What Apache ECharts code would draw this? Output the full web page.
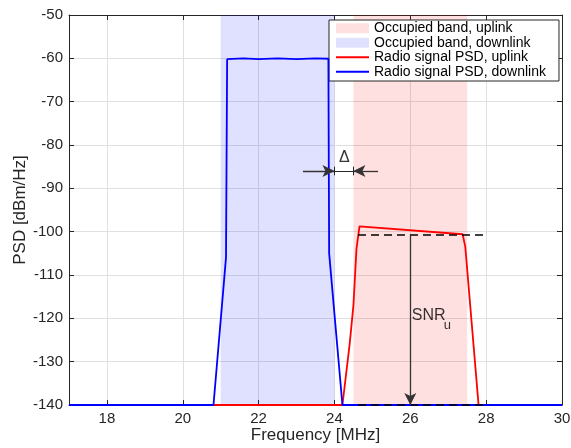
<!DOCTYPE html>
<html>
<head>
<meta charset="utf-8">
<script src="https://cdn.jsdelivr.net/npm/echarts@6/dist/echarts.min.js"></script>
<style>
html,body{margin:0;padding:0;background:#fff;}
#chart{width:571px;height:448px;}
</style>
</head>
<body>
<div id="chart"></div>
<script>
// ---- data ----
const xTicks = [18, 20, 22, 24, 26, 28, 30];
const yTicks = [-140, -130, -120, -110, -100, -90, -80, -70, -60, -50];
const legendNames = ['Occupied band, uplink', 'Occupied band, downlink', 'Radio signal PSD, uplink', 'Radio signal PSD, downlink'];
const uplinkBand = [24.5, 27.5];
const downlinkBand = [21.0, 24.0];
const uplinkPSD = [
  [17, -140], [24.21, -140], [24.4, -126], [24.5, -117], [24.58, -104], [24.66, -98.8],
  [27.38, -100.6], [27.45, -103.5], [27.8, -140], [30, -140]
];
const downlinkPSD = [
  [17, -140], [20.81, -140], [21.14, -106], [21.17, -60.2], [21.6, -60.0], [22.0, -60.2],
  [22.5, -60.0], [23.0, -60.2], [23.5, -60.0], [23.84, -60.1], [23.86, -105], [24.21, -140], [30, -140]
];
const snrLevel = [24.62, 28.0, -100.6];   // dashed reference: x from, x to, level
const floorLevel = [24.62, 28.0, -140];
const snrArrowX = 26;
const deltaY = -86;
const deltaEdges = [24.0, 24.5];
const deltaArrowTails = [23.17, 25.15];

const axisColor = '#262626';
const font = 'Liberation Sans, Arial, Helvetica, sans-serif';

const chart = echarts.init(document.getElementById('chart'), null, {renderer: 'canvas'});

const tickInside = {show: true, inside: true, length: 5, lineStyle: {color: axisColor, width: 1}};

const option = {
  animation: false,
  backgroundColor: '#ffffff',
  textStyle: {fontFamily: font},
  grid: {left: 69, right: 9, top: 15, bottom: 43, containLabel: false, outerBoundsMode: 'none'},
  legend: {
    orient: 'vertical', left: 329, top: 20,
    data: [
      {name: legendNames[0], icon: 'rect'},
      {name: legendNames[1], icon: 'rect'},
      {name: legendNames[2], itemStyle: {opacity: 0}},
      {name: legendNames[3], itemStyle: {opacity: 0}}
    ],
    itemWidth: 33, itemHeight: 10, itemGap: 0,
    padding: [1, 13, 2, 6],
    backgroundColor: '#ffffff', borderColor: axisColor, borderWidth: 1,
    textStyle: {fontSize: 14, fontFamily: font, color: '#000', lineHeight: 14.5},
    selectedMode: false
  },
  xAxis: [
    {
      type: 'value', min: 17, max: 30, position: 'bottom',
      name: 'Frequency [MHz]', nameLocation: 'middle', nameGap: 22, nameMoveOverlap: false,
      nameTextStyle: {fontSize: 17, color: axisColor, fontFamily: font},
      axisLine: {show: true, onZero: false, lineStyle: {color: axisColor, width: 1}},
      axisTick: Object.assign({customValues: xTicks}, tickInside),
      axisLabel: {customValues: xTicks, fontSize: 15, color: axisColor, margin: 6, fontFamily: font},
      splitLine: {show: true, lineStyle: {color: '#e0e0e0', width: 1}}
    },
    {
      type: 'value', min: 17, max: 30, position: 'top',
      axisLine: {show: true, onZero: false, lineStyle: {color: axisColor, width: 1}},
      axisTick: Object.assign({customValues: xTicks}, tickInside),
      axisLabel: {show: false, customValues: xTicks},
      splitLine: {show: false}
    }
  ],
  yAxis: [
    {
      type: 'value', min: -140, max: -50, interval: 10, position: 'left',
      name: 'PSD [dBm/Hz]', nameLocation: 'middle', nameGap: 40, nameMoveOverlap: false,
      nameTextStyle: {fontSize: 17, color: axisColor, fontFamily: font},
      axisLine: {show: true, onZero: false, lineStyle: {color: axisColor, width: 1}},
      axisTick: tickInside,
      axisLabel: {fontSize: 15, color: axisColor, margin: 6, fontFamily: font},
      splitLine: {show: true, lineStyle: {color: '#e0e0e0', width: 1}}
    },
    {
      type: 'value', min: -140, max: -50, interval: 10, position: 'right',
      axisLine: {show: true, onZero: false, lineStyle: {color: axisColor, width: 1}},
      axisTick: tickInside,
      axisLabel: {show: false},
      splitLine: {show: false}
    }
  ],
  series: [
    {
      name: legendNames[0], type: 'bar', data: [],
      itemStyle: {color: 'rgba(255,0,0,0.12)'},
      markArea: {silent: true, itemStyle: {color: 'rgba(255,0,0,0.12)'},
        data: [[{xAxis: uplinkBand[0]}, {xAxis: uplinkBand[1]}]]}
    },
    {
      name: legendNames[1], type: 'bar', data: [],
      itemStyle: {color: 'rgba(0,0,255,0.12)'},
      markArea: {silent: true, itemStyle: {color: 'rgba(0,0,255,0.12)'},
        data: [[{xAxis: downlinkBand[0]}, {xAxis: downlinkBand[1]}]]}
    },
    {
      name: legendNames[2], type: 'line', data: uplinkPSD, symbol: 'none',
      lineStyle: {color: '#ff0000', width: 1.8}, itemStyle: {color: '#ff0000'}, z: 3
    },
    {
      name: legendNames[3], type: 'line', data: downlinkPSD, symbol: 'none',
      lineStyle: {color: '#0000ff', width: 1.8}, itemStyle: {color: '#0000ff'}, z: 4
    },
    {
      name: 'dashed', type: 'line', data: [], z: 5, silent: true,
      markLine: {
        silent: true, symbol: ['none', 'none'], animation: false,
        label: {show: false},
        lineStyle: {color: '#000', width: 1.6, type: [8, 5]},
        data: [
          [{coord: [snrLevel[0], snrLevel[2]]}, {coord: [snrLevel[1], snrLevel[2]]}],
          [{coord: [floorLevel[0], floorLevel[2]]}, {coord: [floorLevel[1], floorLevel[2]]}]
        ]
      }
    },
    {
      name: 'arrows', type: 'line', data: [], z: 6, silent: true,
      markLine: {
        silent: true, symbol: ['none', 'arrow'], symbolSize: [9, 12], animation: false,
        label: {show: false},
        lineStyle: {color: '#333', width: 1.3, type: 'solid'},
        data: [
          [{coord: [snrArrowX, snrLevel[2]]}, {coord: [snrArrowX, floorLevel[2]]}],
          [{coord: [deltaArrowTails[0], deltaY]}, {coord: [deltaEdges[0], deltaY]}],
          [{coord: [deltaArrowTails[1], deltaY]}, {coord: [deltaEdges[1], deltaY]}]
        ]
      }
    },
    {
      name: 'bars', type: 'line', data: [], z: 6, silent: true,
      markLine: {
        silent: true, symbol: ['none', 'none'], animation: false,
        label: {show: false},
        lineStyle: {color: axisColor, width: 1, type: 'solid'},
        data: [
          [{coord: [deltaEdges[0], deltaY]}, {coord: [deltaEdges[1], deltaY]}],
          [{coord: [deltaEdges[0], deltaY + 1]}, {coord: [deltaEdges[0], deltaY - 1]}],
          [{coord: [deltaEdges[1], deltaY + 1]}, {coord: [deltaEdges[1], deltaY - 1]}]
        ]
      }
    },
    {
      name: 'labels', type: 'scatter', symbolSize: 0, z: 7, silent: true,
      data: [
        {value: [24.26, -82.8], label: {formatter: 'Δ', align: 'center'}},
        {value: [26.04, -119.3], label: {formatter: 'SNR', align: 'left'}},
        {value: [26.88, -121.6], label: {formatter: 'u', align: 'left', fontSize: 13}}
      ],
      label: {show: true, position: 'inside', verticalAlign: 'middle', color: '#000', fontSize: 16, fontFamily: font}
    }
  ]
};
chart.setOption(option);
</script>
</body>
</html>
